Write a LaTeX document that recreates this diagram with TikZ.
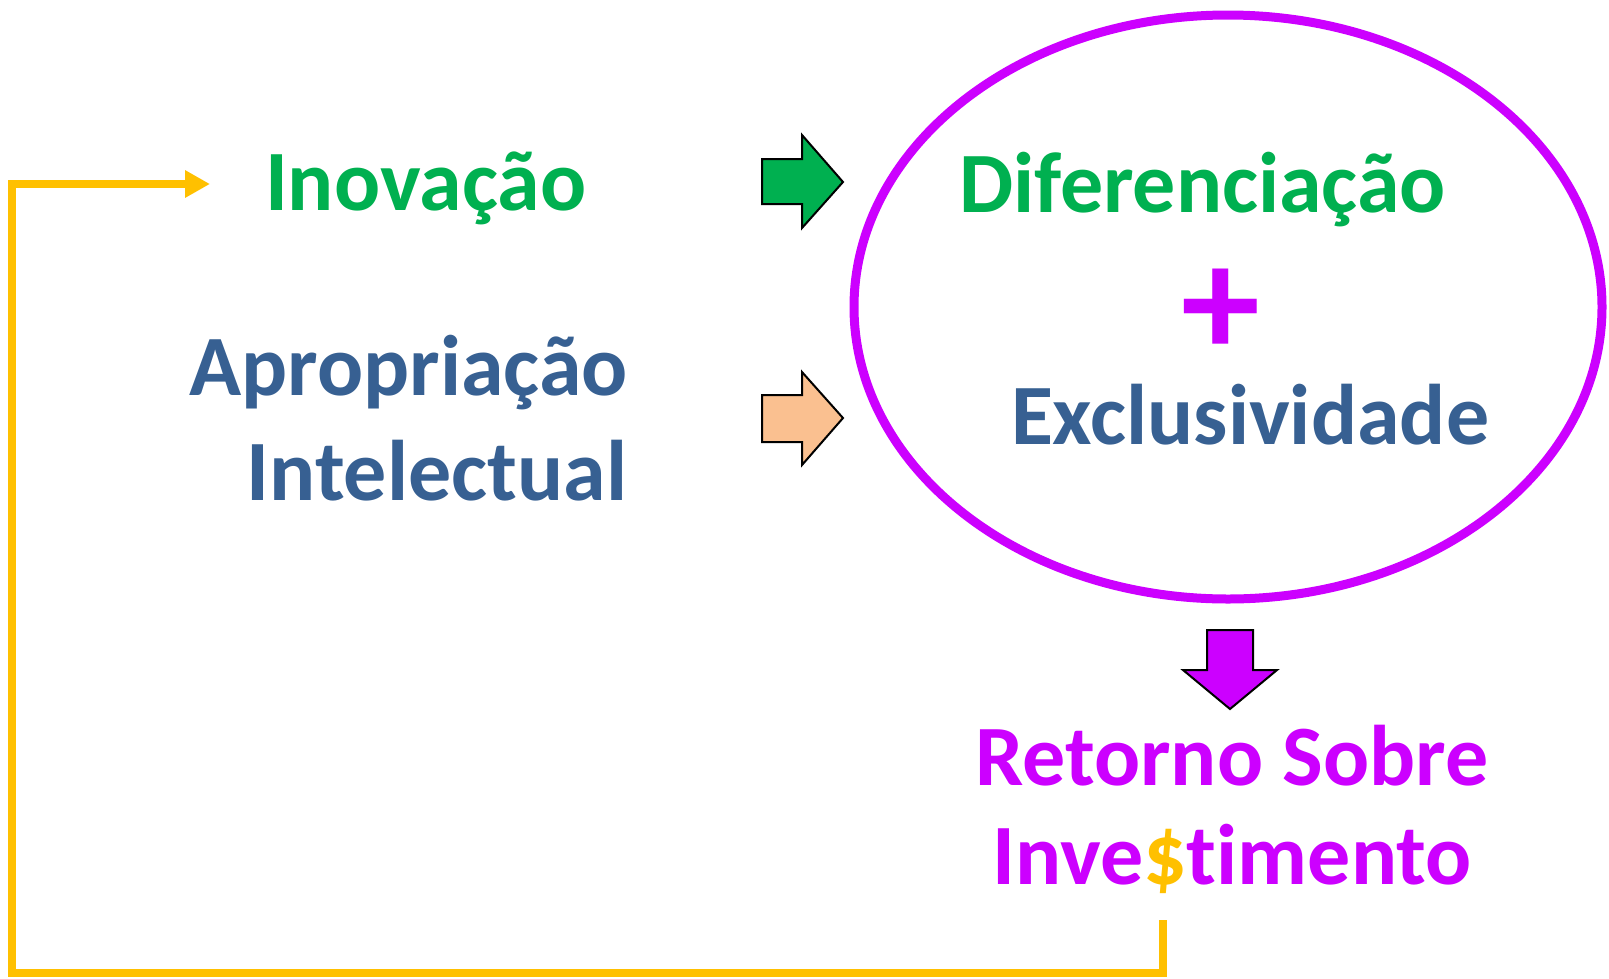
\documentclass[tikz,border=0pt]{standalone}
\usepackage{fontspec}
\setmainfont{Carlito}[Ligatures={NoCommon}]
\usetikzlibrary{arrows.meta,shapes.geometric}
\definecolor{cgreen}{HTML}{00B050}
\definecolor{cblue}{HTML}{376092}
\definecolor{cmag}{HTML}{CC00FF}
\definecolor{cyel}{HTML}{FFC000}
\definecolor{cpeach}{HTML}{FAC090}
\tikzset{
  lbl/.style={inner sep=0pt, outer sep=0pt, font=\fontsize{86}{86}\selectfont\bfseries},
  blockarrow/.style={draw=black, line width=2pt, line join=miter},
  feedback/.style={draw=cyel, line width=8pt, -{Triangle[length=25pt,width=26pt]}}
}
\begin{document}
\begin{tikzpicture}[x=1pt,y=-1pt]
\useasboundingbox (0,0) rectangle (1609,978);
% ellipse
\node[ellipse, draw=cmag, line width=9pt, minimum width=748pt, minimum height=584pt, inner sep=0pt, outer sep=0pt] (ell) at (1228,307) {};
% texts
\node[lbl, text=cgreen, anchor=base west] (ino) at (265,210) {Inovação};
\node[lbl, text=cblue, anchor=base east] (apr) at (628,395) {Apropriação};
\node[lbl, text=cblue, anchor=base east] (int) at (627,500) {Intelectual};
\node[lbl, text=cgreen, anchor=base west] (dif) at (959,212) {Diferenciação};
\node[inner sep=0pt, text=cmag, font=\fontsize{158}{158}\selectfont\bfseries] (plus) at (1221,313) {+};
\node[lbl, text=cblue, anchor=base west] (exc) at (1011,444) {Exclusividade};
\node[lbl, text=cmag, anchor=base] (ret) at (1232,785) {Retorno Sobre};
\node[lbl, text=cmag, anchor=base] (inv) at (1232,884) {Inve\textcolor{cyel}{\$}timento};
% block arrows
\filldraw[blockarrow, fill=cgreen] (762,159) -- (802,159) -- (802,135) -- (843,182) -- (802,228) -- (802,204) -- (762,204) -- cycle;
\filldraw[blockarrow, fill=cpeach] (762,395) -- (802,395) -- (802,372) -- (843,418) -- (802,465) -- (802,442) -- (762,442) -- cycle;
\filldraw[blockarrow, fill=cmag] (1207,630) -- (1253,630) -- (1253,670) -- (1277,670) -- (1230,709) -- (1183,670) -- (1207,670) -- cycle;
% feedback connector
\coordinate (fbstart) at (1163,920);
\coordinate (fbend) at (210,184);
\draw[feedback] (fbstart) -- (1163,973) -- (12,973) -- (12,184) -- (fbend);
\end{tikzpicture}
\end{document}
